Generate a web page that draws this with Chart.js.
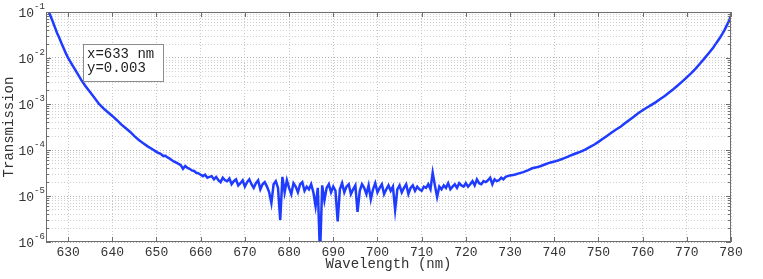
<!DOCTYPE html>
<html>
<head>
<meta charset="utf-8">
<script src="https://cdn.jsdelivr.net/npm/chart.js@4.4.0/dist/chart.umd.min.js"></script>
<style>
  body { margin: 0; background: #fff; }
</style>
</head>
<body>
<canvas id="myCanvas" width="763" height="279"></canvas>
<script>
var wavelength = [
  625, 625.5, 626, 626.5, 627, 627.5, 628, 628.5, 629, 629.5,
  630, 631, 632, 633, 634,
  635, 636, 637, 638, 639, 640, 641, 642, 643, 644,
  645, 646, 647, 648, 649,
  650, 650.5, 651, 651.5, 652, 652.5, 653, 653.5, 654, 654.5,
  655, 655.5, 656, 656.5, 657, 657.5, 658, 658.5, 659, 659.5,
  660, 660.5, 661, 661.5, 662, 662.5, 663, 663.5, 664, 664.5,
  665, 665.5, 666, 666.5, 667, 667.5, 668, 668.5, 669, 669.5,
  670, 670.5, 671, 671.5, 672, 672.5, 673, 673.5, 674, 674.5,
  675, 675.5, 676, 676.5, 677, 677.5, 678, 678.5, 679, 679.5,
  680, 680.5, 681, 681.5, 682, 682.5, 683, 683.5, 684, 684.5,
  685, 685.5, 686, 686.5, 687, 687.5, 688, 688.5, 689, 689.5,
  690, 690.5, 691, 691.5, 692, 692.5, 693, 693.5, 694, 694.5,
  695, 695.5, 696, 696.5, 697, 697.5, 698, 698.5, 699, 699.5,
  700, 700.5, 701, 701.5, 702, 702.5, 703, 703.5, 704, 704.5,
  705, 705.5, 706, 706.5, 707, 707.5, 708, 708.5, 709, 709.5,
  710, 710.5, 711, 711.5, 712, 712.5, 713, 713.5, 714, 714.5,
  715, 715.5, 716, 716.5, 717, 717.5, 718, 718.5, 719, 719.5,
  720, 720.5, 721, 721.5, 722, 722.5, 723, 723.5, 724, 724.5,
  725, 725.5, 726, 726.5, 727, 727.5, 728, 728.5, 729, 729.5,
  730, 731, 732, 733, 734, 735, 736, 737, 738, 739,
  740, 741, 742, 743, 744, 745, 746, 747, 748, 749,
  750, 751, 752, 753, 754, 755, 756, 757, 758, 759,
  760, 761, 762, 763, 764, 765, 766, 767, 768, 769,
  770, 771, 772, 773, 774, 775, 776, 776.5, 777, 777.5, 778, 778.5, 779, 779.5, 780
]
var transmission = [
  0.16, 0.11, 0.083, 0.063, 0.047, 0.035, 0.0275, 0.021, 0.0162, 0.0126,
  0.0100, 0.0069, 0.0048, 0.0033, 0.0024,
  0.0018, 0.00135, 0.0010, 0.00080, 0.00066, 0.00055, 0.00045, 0.00036, 0.00030, 0.00025,
  0.00020, 0.000165, 0.000140, 0.000120, 0.000105,
  9.1e-5, 8.6e-5, 8.2e-5, 7.4e-5, 7.5e-5, 6.9e-5, 6.5e-5, 6.0e-5, 5.6e-5, 5.3e-5,
  5.0e-5, 4.7e-5, 3.9e-5, 4.5e-5, 4.1e-5, 3.9e-5, 3.6e-5, 3.5e-5, 3.2e-5, 3.1e-5,
  2.9e-5, 2.7e-5, 2.9e-5, 2.5e-5, 2.6e-5, 2.7e-5, 2.3e-5, 2.6e-5, 2.2e-5, 2.0e-5,
  2.5e-5, 2.2e-5, 2.1e-5, 2.4e-5, 1.8e-5, 2.1e-5, 2.3e-5, 1.7e-5, 1.9e-5, 2.2e-5,
  1.6e-5, 2.0e-5, 2.3e-5, 1.8e-5, 1.5e-5, 1.9e-5, 2.2e-5, 1.4e-5, 1.8e-5, 2.0e-5,
  1.6e-5, 1.2e-5, 7.0e-6, 1.8e-5, 2.1e-5, 1.5e-5, 3.0e-6, 2.6e-5, 1.2e-5, 2.2e-5,
  1.5e-5, 1.1e-5, 1.9e-5, 1.6e-5, 1.2e-5, 1.8e-5, 2.0e-5, 1.3e-5, 1.6e-5, 1.4e-5,
  1.8e-5, 1.2e-5, 6.0e-6, 1.5e-5, 5.0e-7, 1.7e-5, 8.0e-6, 1.5e-5, 1.8e-5, 1.2e-5,
  1.6e-5, 1.3e-5, 2.8e-6, 1.4e-5, 1.9e-5, 1.2e-5, 1.6e-5, 1.8e-5, 1.1e-5, 1.4e-5,
  1.7e-5, 4.5e-6, 1.3e-5, 1.8e-5, 1.5e-5, 1.1e-5, 1.7e-5, 8.5e-6, 1.4e-5, 1.9e-5,
  1.2e-5, 1.5e-5, 1.8e-5, 1.1e-5, 1.4e-5, 1.7e-5, 1.3e-5, 1.6e-5, 5.0e-6, 1.4e-5,
  1.7e-5, 1.2e-5, 1.5e-5, 1.8e-5, 1.1e-5, 1.5e-5, 1.7e-5, 1.3e-5, 1.6e-5, 1.4e-5,
  1.3e-5, 1.6e-5, 1.5e-5, 1.8e-5, 1.4e-5, 3.2e-5, 1.7e-5, 9.5e-6, 1.6e-5, 1.4e-5,
  1.7e-5, 1.5e-5, 1.9e-5, 1.4e-5, 1.6e-5, 1.8e-5, 1.5e-5, 1.9e-5, 1.7e-5, 1.6e-5,
  1.9e-5, 1.6e-5, 1.8e-5, 2.1e-5, 1.7e-5, 2.3e-5, 1.9e-5, 1.8e-5, 2.1e-5, 2.0e-5,
  2.2e-5, 2.5e-5, 1.8e-5, 2.3e-5, 2.1e-5, 2.2e-5, 2.5e-5, 2.3e-5, 2.6e-5, 2.7e-5,
  2.8e-5, 2.9e-5, 3.1e-5, 3.3e-5, 3.6e-5, 4.0e-5, 4.2e-5, 4.5e-5, 4.9e-5, 5.3e-5,
  5.6e-5, 6.0e-5, 6.5e-5, 7.1e-5, 7.8e-5, 8.5e-5, 9.2e-5, 1.02e-4, 1.15e-4, 1.3e-4,
  1.5e-4, 1.75e-4, 2.05e-4, 2.4e-4, 2.8e-4, 3.2e-4, 3.8e-4, 4.5e-4, 5.3e-4, 6.3e-4,
  7.3e-4, 8.4e-4, 9.6e-4, 1.1e-3, 1.28e-3, 1.5e-3, 1.78e-3, 2.12e-3, 2.55e-3, 3.1e-3,
  3.8e-3, 4.7e-3, 5.9e-3, 7.6e-3, 0.0098, 0.0128, 0.017, 0.02, 0.0235, 0.0275, 0.033, 0.04, 0.05, 0.063, 0.083
]
var xTicks = [630, 640, 650, 660, 670, 680, 690, 700, 710, 720, 730, 740, 750, 760, 770, 780]
var yDecades = [-6, -5, -4, -3, -2, -1]
var markerText = ["x=633 nm", "y=0.003"]

var font = "'Liberation Mono', 'DejaVu Sans Mono', monospace"
var textColor = '#333'

var points = wavelength.map(function (w, i) { return { x: w, y: transmission[i] } })

// box, inward ticks, superscript labels, titles and the data-tip box
var frame = {
  id: 'frame',
  afterDraw: function (chart) {
    var ctx = chart.ctx
    var a = chart.chartArea
    var sx = chart.scales.x
    var sy = chart.scales.y
    ctx.save()
    ctx.strokeStyle = '#6e6e6e'
    ctx.lineWidth = 1
    ctx.strokeRect(Math.round(a.left) + 0.5, Math.round(a.top) + 0.5,
      Math.round(a.right - a.left) - 1, Math.round(a.bottom - a.top) - 1)

    ctx.beginPath()
    xTicks.forEach(function (v) {
      var px = Math.round(sx.getPixelForValue(v)) + 0.5
      ctx.moveTo(px, a.bottom); ctx.lineTo(px, a.bottom - 5)
      ctx.moveTo(px, a.top); ctx.lineTo(px, a.top + 5)
    })
    yDecades.forEach(function (d) {
      for (var m = 1; m <= 9; m++) {
        var v = m * Math.pow(10, d)
        if (v > 0.1 + 1e-12) break
        var py = Math.round(sy.getPixelForValue(v)) + 0.5
        var len = m === 1 ? 5 : 3
        ctx.moveTo(a.left, py); ctx.lineTo(a.left + len, py)
        ctx.moveTo(a.right, py); ctx.lineTo(a.right - len, py)
      }
    })
    ctx.stroke()

    ctx.fillStyle = textColor
    yDecades.forEach(function (d) {
      var py = sy.getPixelForValue(Math.pow(10, d))
      ctx.font = '13px ' + font
      ctx.textAlign = 'right'
      ctx.textBaseline = 'middle'
      ctx.fillText('10', 34, py + 2)
      ctx.font = '9px ' + font
      ctx.textAlign = 'left'
      ctx.fillText(String(d), 34, py - 5)
    })

    ctx.font = '14px ' + font
    ctx.textAlign = 'center'
    ctx.textBaseline = 'middle'
    ctx.fillText('Wavelength (nm)', (a.left + a.right) / 2, 264)
    ctx.save()
    ctx.translate(9, (a.top + a.bottom) / 2)
    ctx.rotate(-Math.PI / 2)
    ctx.fillText('Transmission', 0, 0)
    ctx.restore()

    ctx.fillStyle = '#fff'
    ctx.fillRect(83.5, 44.5, 80, 37)
    ctx.strokeStyle = '#8c8c8c'
    ctx.strokeRect(83.5, 44.5, 80, 37)
    ctx.fillStyle = '#222'
    ctx.textAlign = 'left'
    ctx.fillText(markerText[0], 87, 54)
    ctx.fillText(markerText[1], 87, 68)
    ctx.restore()
  }
}

var ctx = document.getElementById("myCanvas")
var myChart = new Chart(ctx, {
  type: 'line',
  data: {
    datasets: [{
      data: points,
      borderColor: '#1f3bff',
      borderWidth: 2.5,
      pointRadius: 0,
      tension: 0,
      fill: false
    }]
  },
  options: {
    responsive: false,
    animation: false,
    events: [],
    layout: { padding: { left: 0, top: 12, right: 32, bottom: 0 } },
    plugins: { legend: { display: false }, tooltip: { enabled: false } },
    scales: {
      x: {
        type: 'linear',
        min: 625,
        max: 780,
        afterBuildTicks: function (s) { s.ticks = xTicks.map(function (v) { return { value: v } }) },
        afterFit: function (s) { s.height = 37 },
        ticks: {
          autoSkip: false,
          maxRotation: 0,
          padding: 3,
          color: textColor,
          font: { family: font, size: 13 }
        },
        grid: { color: '#c8c8c8', drawTicks: false, lineWidth: 1 },
        border: { display: false, dash: [1, 2] }
      },
      y: {
        type: 'logarithmic',
        min: 1e-6,
        max: 1e-1,
        afterBuildTicks: function (s) {
          var t = []
          yDecades.forEach(function (d) {
            for (var m = 1; m <= 9; m++) {
              var v = m * Math.pow(10, d)
              if (v > 0.1 + 1e-12) break
              t.push({ value: v, major: m === 1 })
            }
          })
          s.ticks = t
        },
        afterFit: function (s) { s.width = 46 },
        ticks: { display: false },
        grid: {
          drawTicks: false,
          lineWidth: 1,
          color: function (c) { return c.tick && c.tick.major ? '#b4b4b4' : '#d0d0d0' }
        },
        border: { display: false, dash: [1, 2] }
      }
    }
  },
  plugins: [frame]
})
</script>
</body>
</html>
